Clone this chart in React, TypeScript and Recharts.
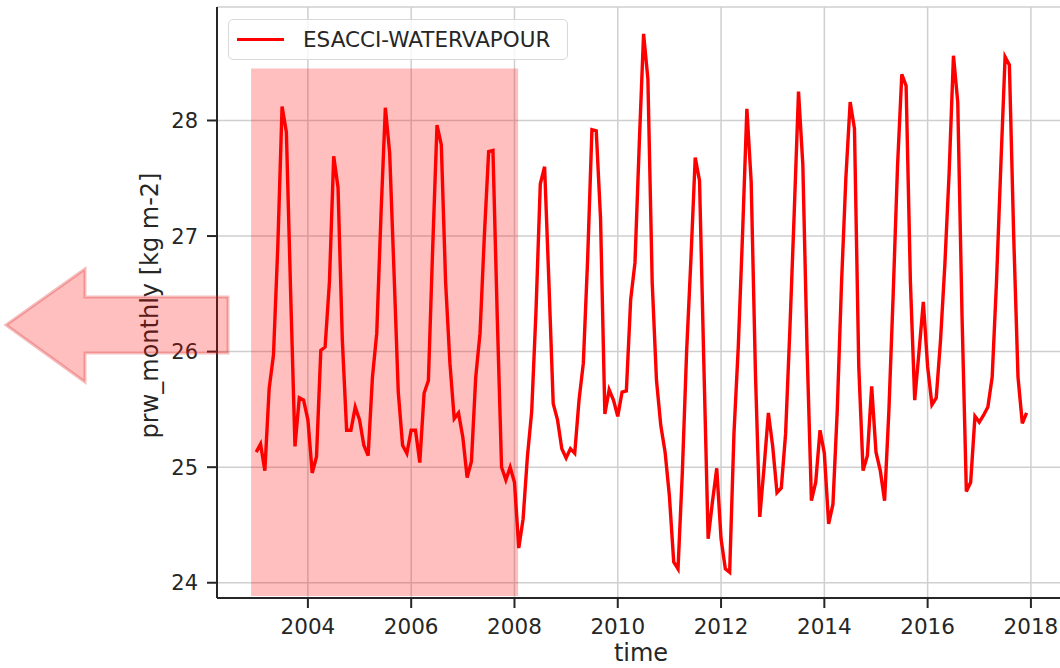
import { LineChart, Line, XAxis, YAxis, CartesianGrid, ReferenceArea } from 'recharts';

// monthly values, Jan 2003 .. Dec 2017, one row per year
const startYear = 2003;
const prwMonthly = [
  25.13, 25.2, 24.97, 25.68, 25.97, 26.9, 28.12, 27.9, 26.5, 25.18, 25.6, 25.58,
  25.41, 24.95, 25.09, 26.01, 26.04, 26.6, 27.69, 27.42, 26.1, 25.32, 25.32, 25.52,
  25.41, 25.19, 25.1, 25.78, 26.16, 27.2, 28.11, 27.72, 26.7, 25.65, 25.19, 25.12,
  25.32, 25.32, 25.04, 25.64, 25.75, 26.9, 27.96, 27.79, 26.6, 25.9, 25.42, 25.47,
  25.26, 24.91, 25.05, 25.78, 26.16, 27.0, 27.73, 27.74, 26.3, 25.0, 24.89, 25.0,
  24.87, 24.3, 24.55, 25.09, 25.48, 26.35, 27.45, 27.6, 26.6, 25.55, 25.41, 25.16,
  25.08, 25.16, 25.12, 25.58, 25.9, 26.8, 27.92, 27.91, 27.15, 25.46, 25.67, 25.58,
  25.44, 25.65, 25.66, 26.45, 26.77, 27.8, 28.75, 28.36, 26.6, 25.75, 25.36, 25.13,
  24.75, 24.18, 24.12, 24.95, 26.0, 26.8, 27.68, 27.48, 25.9, 24.38, 24.7, 24.99,
  24.38, 24.12, 24.09, 25.29, 26.04, 27.02, 28.1, 27.47, 25.8, 24.57, 25.0, 25.47,
  25.18, 24.78, 24.82, 25.29, 26.2, 27.2, 28.25, 27.62, 26.0, 24.71, 24.87, 25.32,
  25.12, 24.51, 24.68, 25.49, 26.6, 27.5, 28.16, 27.93, 25.87, 24.97, 25.1, 25.7,
  25.13, 24.97, 24.71, 25.49, 26.5, 27.6, 28.4, 28.3, 26.6, 25.58, 26.0, 26.43,
  25.87, 25.54, 25.6, 26.1, 26.75, 27.55, 28.56, 28.16, 26.3, 24.79, 24.87, 25.44,
  25.39, 25.45, 25.52, 25.78, 26.6, 27.6, 28.55, 28.48, 27.0, 25.78, 25.38, 25.47,
];
const seriesName = 'ESACCI-WATERVAPOUR';

const xTicks = [2004, 2006, 2008, 2010, 2012, 2014, 2016, 2018];
const yTicks = [24, 25, 26, 27, 28];
const xDomain = [2002.24, 2018.66];
const yDomain = [23.868, 28.982];

// highlighted period
const spanYears = [2002.9, 2008.07];
const spanValues = [23.885, 28.45];

const data = prwMonthly.map((v, i) => ({ time: startYear + i / 12, prw: v }));

const ink = '#262626';
const font = '"DejaVu Sans", sans-serif';

const App = () => {
  return (
    <div
      style={{
        position: 'fixed',
        left: 0,
        top: 0,
        width: 1060,
        height: 668,
        overflow: 'hidden',
        background: '#fff',
        fontFamily: font,
      }}
    >
      <LineChart
        width={1080}
        height={668}
        data={data}
        margin={{ top: 7, right: 15, bottom: 0, left: 0 }}
      >
        <CartesianGrid stroke="#cfcfcf" strokeWidth={1.5} />
        <XAxis
          xAxisId="top"
          orientation="top"
          type="number"
          domain={xDomain}
          height={0}
          tick={false}
          tickLine={false}
          axisLine={{ stroke: ink, strokeWidth: 2 }}
        />
        <XAxis
          dataKey="time"
          type="number"
          domain={xDomain}
          ticks={xTicks}
          allowDataOverflow
          height={70}
          tickSize={10}
          tickMargin={11}
          tick={{ fill: ink, fontSize: 21.5, fontFamily: font }}
          tickLine={{ stroke: ink, strokeWidth: 2 }}
          axisLine={{ stroke: ink, strokeWidth: 2 }}
          label={{
            content: ({ viewBox }: any) => (
              <text
                x={viewBox.x + viewBox.width / 2}
                y={viewBox.y + 63}
                textAnchor="middle"
                fill={ink}
                fontSize={24}
                fontFamily={font}
              >
                time
              </text>
            ),
          }}
        />
        <YAxis
          type="number"
          domain={yDomain}
          ticks={yTicks}
          allowDataOverflow
          width={217}
          tickSize={10}
          tickMargin={9}
          tick={{ fill: ink, fontSize: 21, fontFamily: font }}
          tickLine={{ stroke: ink, strokeWidth: 2 }}
          axisLine={{ stroke: ink, strokeWidth: 2 }}
          label={{
            content: ({ viewBox }: any) => {
              const cx = 158;
              const cy = viewBox.y + viewBox.height / 2 + 3;
              return (
                <text
                  x={cx}
                  y={cy}
                  transform={`rotate(-90, ${cx}, ${cy})`}
                  textAnchor="middle"
                  fill={ink}
                  fontSize={24}
                  fontFamily={font}
                >
                  prw_monthly [kg m-2]
                </text>
              );
            },
          }}
        />
        <ReferenceArea
          x1={spanYears[0]}
          x2={spanYears[1]}
          y1={spanValues[0]}
          y2={spanValues[1]}
          fill="#ff0000"
          fillOpacity={0.25}
          stroke="none"
        />
        <Line
          dataKey="prw"
          name={seriesName}
          type="linear"
          stroke="#ff0000"
          strokeWidth={3.4}
          dot={false}
          isAnimationActive={false}
        />
      </LineChart>

      {/* legend */}
      <div
        style={{
          position: 'absolute',
          left: 228,
          top: 19,
          width: 338,
          height: 39,
          border: '1.5px solid #d8d8d8',
          borderRadius: 5,
          background: 'rgba(255,255,255,0.8)',
          display: 'flex',
          alignItems: 'center',
          boxSizing: 'content-box',
        }}
      >
        <div style={{ marginLeft: 8, width: 47, height: 3.5, background: '#ff0000' }} />
        <span style={{ marginLeft: 19, fontSize: 21.5, color: ink, whiteSpace: 'nowrap' }}>
          {seriesName}
        </span>
      </div>

      {/* arrow annotation */}
      <svg
        width={240}
        height={668}
        style={{ position: 'absolute', left: 0, top: 0, pointerEvents: 'none' }}
      >
        <polygon
          points="6,325 85,269 85,297 228,297 228,353 85,353 85,382"
          fill="rgba(255,0,0,0.25)"
          stroke="rgba(215,40,40,0.3)"
          strokeWidth={3}
          strokeLinejoin="miter"
        />
      </svg>
    </div>
  );
};

export default App;
